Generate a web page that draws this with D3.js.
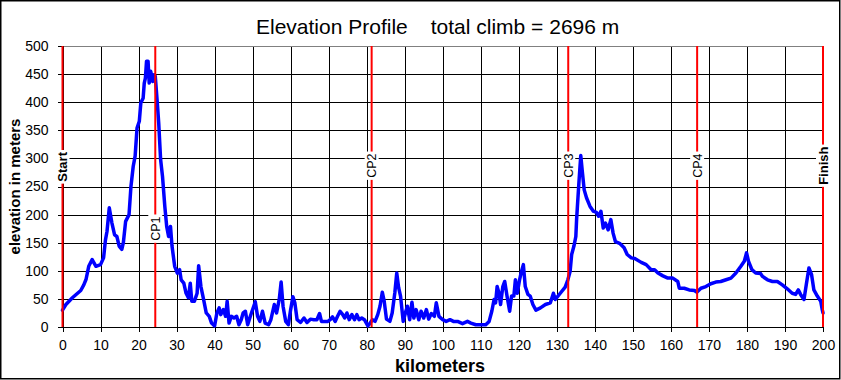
<!DOCTYPE html>
<html><head><meta charset="utf-8">
<script src="https://cdn.jsdelivr.net/npm/d3@7/dist/d3.min.js"></script>
<style>body{margin:0;background:#fff} text{font-family:"Liberation Sans",Arial,sans-serif}</style>
</head><body><svg id="c" width="841" height="380"></svg>
<script>
// ---- data ----
const km = [0,0.9,2.6,4.8,5.6,6.2,6.9,7.8,8.8,10,10.8,11.3,11.7,12.3,13,13.7,14.3,14.9,15.6,16,16.6,17.5,18,18.6,19.1,19.6,20.2,20.6,21.2,21.5,21.8,22.1,22.5,22.8,23.2,23.7,24.1,24.4,24.9,25.3,25.8,26.3,26.9,27.4,27.9,28.4,28.8,29.5,30.2,30.8,31.2,31.9,32.5,33.1,33.6,34,34.7,35.4,35.8,36.4,37.1,37.8,38.6,39.2,40,40.6,41.2,41.6,42.3,42.9,43.3,43.8,44.4,45.1,45.8,46.4,47,47.5,48.1,48.7,49.4,
 50.7,51.3,51.9,52.6,53.3,54.2,54.8,55.7,56.3,57,57.5,58,58.7,59.4,60,60.6,61.1,61.7,62.6,63.5,64.3,65.2,66.1,66.9,67.6,68.1,69,69.8,70.4,71,71.7,72.4,73,73.7,74.2,74.8,75.4,76.1,76.8,77.4,78,78.7,79.4,80.3,80.9,81.5,82.2,82.9,83.5,84.1,84.6,85.2,86.1,86.7,87.4,87.9,88.4,88.9,89.6,90.3,90.7,91.3,91.9,92.4,93,93.7,94.3,95,95.7,96.3,97,97.8,98.3,99,
 100,100.9,101.9,102.8,103.9,105.2,106.5,107.4,108.7,110,111.3,112.2,112.9,113.5,113.9,114.3,114.8,115.2,115.8,116.3,116.9,117.6,118.1,118.7,119.1,119.6,120.2,120.7,121.2,121.7,122.4,123,123.7,124.5,125.7,127,128.3,129.1,129.6,130.9,132.2,132.9,133.5,133.9,134.5,135,135.2,135.5,135.8,136.1,136.3,136.7,137.2,137.8,138.7,139.6,140.4,141,141.6,142.2,142.8,143.5,144.2,144.8,145.4,146.5,147.7,148.5,149.6,150.5,
 152.2,153.5,154.8,155.7,156.6,157.9,159.2,160.5,161.8,162.2,163.5,164.8,166.2,166.8,167.9,169.2,170.5,171.8,173.1,174.5,175.8,177.1,178.4,179.3,179.9,180.4,181.3,182.3,183.6,184.1,185.4,186.7,188,189.3,190.6,191.9,192.8,193.5,194.1,195,195.6,196.3,197,197.6,198.5,199.4,199.8,200];
const elevation = [30,40,52,65,75,85,108,120,108,111,123,155,170,212,185,164,161,144,138,150,188,200,250,286,304,354,366,399,407,434,443,473,473,434,455,437,449,446,402,363,298,268,215,179,161,179,144,108,96,102,84,78,60,52,78,46,46,60,109,72,49,25,19,7,2,25,34,22,31,19,46,7,19,16,19,4,13,25,28,4,19,
 45,19,10,28,7,4,13,40,25,49,80,37,10,4,31,54,43,13,8,16,8,14,13,13,24,10,10,10,13,18,10,20,28,22,16,25,13,22,13,22,13,16,13,2,7,13,10,22,37,62,46,14,10,25,61,96,70,55,10,28,37,13,44,16,31,13,28,16,31,14,24,19,43,19,
 13,10,13,10,10,6,10,7,4,4,4,10,28,49,43,72,60,40,72,81,55,28,55,55,84,60,84,99,111,72,58,55,40,30,34,40,43,60,49,60,71,84,99,129,144,161,191,224,256,286,305,277,244,230,215,206,204,197,206,176,185,173,191,167,152,149,141,129,123,122,
 115,111,102,102,96,91,87,87,81,69,69,66,65,62,69,72,77,80,81,84,87,96,108,117,132,117,102,96,95,90,84,81,81,75,68,60,58,66,58,49,75,105,93,66,55,46,31,25];
const xTicks = [0,10,20,30,40,50,60,70,80,90,100,110,120,130,140,150,160,170,180,190,200];
const yTicks = [0,50,100,150,200,250,300,350,400,450,500];
const cpNames = ["Start","CP1","CP2","CP3","CP4","Finish"];
const cpKm = [0,24.4,81.3,133.0,166.9,200];
const cpLabelElev = [285,175,287,287,287,287];
const cpBold = [true,false,false,false,false,true];

// ---- layout ----
const L=62.5, R=823, T=46, B=327;
const x = d3.scaleLinear().domain([0,200]).range([L,R]);
const y = d3.scaleLinear().domain([0,500]).range([B,T]);
const svg = d3.select("#c");
svg.append("rect").attr("width",841).attr("height",380).attr("fill","#fff");
svg.append("rect").attr("x",0.75).attr("y",0.75).attr("width",839).attr("height",378)
  .attr("fill","none").attr("stroke","#000").attr("stroke-width",1.5);

// title
const tt = svg.append("text").attr("x",256).attr("y",34).attr("font-size",21).attr("fill","#000");
tt.append("tspan").text("Elevation Profile");
tt.append("tspan").attr("dx",23).text("total climb = 2696 m");

// grid
const g = svg.append("g").attr("shape-rendering","crispEdges");
g.selectAll(".vg").data(xTicks.filter(d=>d>0&&d<200)).enter().append("line")
  .attr("x1",d=>Math.round(x(d))+0.5).attr("x2",d=>Math.round(x(d))+0.5).attr("y1",T).attr("y2",B).attr("stroke","#000");
g.selectAll(".hg").data(yTicks.filter(d=>d>0&&d<500)).enter().append("line")
  .attr("y1",d=>Math.round(y(d))+0.5).attr("y2",d=>Math.round(y(d))+0.5).attr("x1",L).attr("x2",R).attr("stroke","#000");
g.append("line").attr("x1",L).attr("x2",R).attr("y1",T+0.5).attr("y2",T+0.5).attr("stroke","#808080");
g.append("line").attr("x1",R-0.5).attr("x2",R-0.5).attr("y1",T).attr("y2",B).attr("stroke","#808080");

// axes
const xa = svg.append("g").attr("transform",`translate(0,${B})`)
  .call(d3.axisBottom(x).tickValues(xTicks).tickSize(5).tickPadding(8).tickFormat(d3.format("d")));
const ya = svg.append("g").attr("transform",`translate(${L},0)`)
  .call(d3.axisLeft(y).tickValues(yTicks).tickSize(5).tickPadding(9).tickFormat(d3.format("d")));
[xa,ya].forEach(a=>{
  a.select(".domain").attr("stroke","#000").attr("shape-rendering","crispEdges");
  a.selectAll(".tick line").attr("stroke","#000").attr("shape-rendering","crispEdges");
  a.selectAll("text").attr("font-size",14).attr("font-family","Liberation Sans, Arial, sans-serif").attr("fill","#000");
});

// profile
const pts = km.map((k,i)=>[k,elevation[i]]);
svg.append("path").datum(pts)
  .attr("d",d3.line().x(d=>x(d[0])).y(d=>y(d[1])))
  .attr("fill","none").attr("stroke","#0000ff").attr("stroke-width",3.5)
  .attr("stroke-linejoin","round").attr("stroke-linecap","round");

// checkpoint lines (drawn over the profile)
svg.selectAll(".cp").data(cpKm).enter().append("line")
  .attr("x1",d=>x(d)).attr("x2",d=>x(d)).attr("y1",T).attr("y2",B)
  .attr("stroke","#ff0000").attr("stroke-width",2);

// checkpoint labels
cpNames.forEach((n,i)=>{
  const lg = svg.append("g").attr("transform",`translate(${x(cpKm[i])},${y(cpLabelElev[i])}) rotate(-90)`);
  const r = lg.append("rect").attr("fill","#fff");
  const t = lg.append("text").attr("text-anchor","middle").attr("dy","0.36em")
    .attr("font-size",cpBold[i]?13:12.5).attr("font-weight",cpBold[i]?"bold":"normal").attr("fill","#000").text(n);
  const w = t.node().getComputedTextLength();
  r.attr("x",-w/2-2).attr("y",-7).attr("width",w+4).attr("height",14);
});

// axis titles
svg.append("text").attr("x",440).attr("y",372).attr("text-anchor","middle")
  .attr("font-size",18).attr("font-weight","bold").text("kilometers");
svg.append("text").attr("transform","translate(20,186.5) rotate(-90)").attr("text-anchor","middle")
  .attr("font-size",15).attr("font-weight","bold").text("elevation in meters");
</script></body></html>
